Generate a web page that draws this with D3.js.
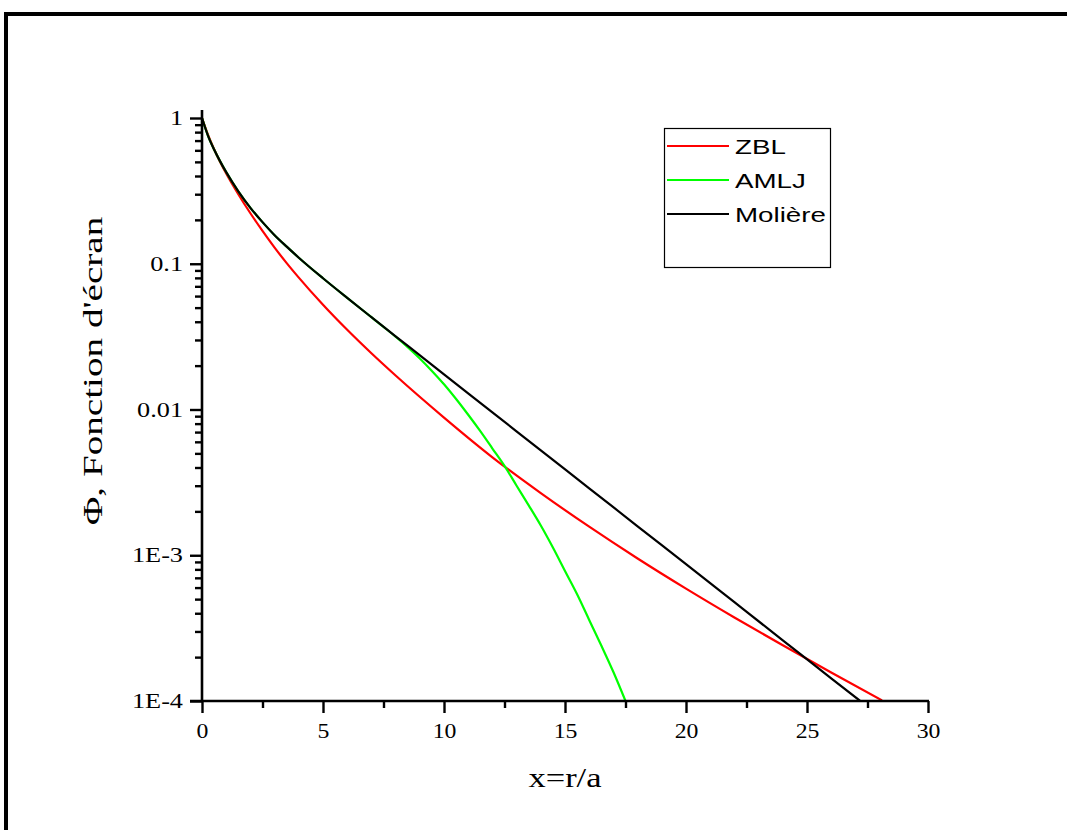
<!DOCTYPE html>
<html>
<head>
<meta charset="utf-8">
<script src="https://cdn.jsdelivr.net/npm/d3@7"></script>
<style>
  html, body { margin: 0; padding: 0; background: #fff; }
  svg { display: block; }
</style>
</head>
<body>
<svg id="chart" width="1067" height="830"></svg>
<script>
// Screening functions Φ(x) against reduced distance x = r/a
const seriesNames = ["ZBL", "AMLJ", "Molière"];
const seriesColors = ["#ff0000", "#00ff00", "#000000"];

const zblX = [0, 0.25, 0.5, 0.75, 1, 1.5, 2, 2.5, 3, 3.5, 4, 5, 6, 7, 8, 10, 12, 14, 16, 18, 20, 22, 24, 26, 28.1];
const zblY = [1, 0.765, 0.610, 0.499, 0.416, 0.300, 0.222, 0.168, 0.129, 0.101, 0.0803, 0.0523, 0.0352, 0.0243, 0.0171,
              0.0088, 0.0047, 0.00267, 0.00157, 0.00095, 0.00059, 0.000374, 0.000241, 0.000157, 0.000101];

const amljX = [0, 0.25, 0.5, 0.75, 1, 1.5, 2, 2.5, 3, 3.5, 4, 5, 6, 7, 7.5, 8, 8.5, 9, 9.5, 10, 10.5, 11, 11.5, 12,
               12.5, 13, 13.5, 14, 14.5, 15, 15.5, 16, 16.5, 17, 17.5];
const amljY = [1, 0.754, 0.608, 0.504, 0.425, 0.314, 0.242, 0.193, 0.157, 0.131, 0.110, 0.0795, 0.0583, 0.0430, 0.0369,
               0.0316, 0.0268, 0.0224, 0.0184, 0.0149, 0.0118, 0.0092, 0.0071, 0.0054, 0.0041, 0.0030, 0.0022,
               0.0016, 0.00113, 0.00078, 0.00054, 0.00036, 0.00024, 0.000158, 0.000100];

const moliereX = [0, 0.25, 0.5, 0.75, 1, 1.5, 2, 2.5, 3, 3.5, 4, 5, 6, 7, 8, 10, 12, 14, 16, 18, 20, 22, 24, 26, 27.2];
const moliereY = [1, 0.754, 0.608, 0.504, 0.425, 0.314, 0.242, 0.193, 0.157, 0.131, 0.110, 0.0795, 0.0583, 0.0430, 0.0318,
                  0.0174, 0.00956, 0.00524, 0.00288, 0.00158, 0.000868, 0.000476, 0.000261, 0.000143, 0.000100];

const xMajorTicks = [0, 5, 10, 15, 20, 25, 30];
const xMinorTicks = [2.5, 7.5, 12.5, 17.5, 22.5, 27.5];
const yMajorTicks = [1, 0.1, 0.01, 1e-3, 1e-4];
const yTickLabels = ["1", "0.1", "0.01", "1E-3", "1E-4"];

const xTitle = "x=r/a";
const yTitle = "Φ, Fonction d'écran";

const series = [
  { name: seriesNames[0], color: seriesColors[0], xs: zblX, ys: zblY },
  { name: seriesNames[1], color: seriesColors[1], xs: amljX, ys: amljY },
  { name: seriesNames[2], color: seriesColors[2], xs: moliereX, ys: moliereY }
];

const svg = d3.select("#chart");

// widen glyphs horizontally (the original export uses wide type)
function widen(sel, factor) {
  sel.each(function () {
    const w = this.getComputedTextLength();
    if (w > 0) {
      d3.select(this).attr("textLength", w * factor).attr("lengthAdjust", "spacingAndGlyphs");
    }
  });
}

// outer frame (runs past the right and bottom edges)
svg.append("rect")
  .attr("x", 6).attr("y", 14)
  .attr("width", 1100).attr("height", 900)
  .attr("fill", "none").attr("stroke", "#000").attr("stroke-width", 4);

const plot = { left: 202, right: 928, top: 118, bottom: 701 };

const x = d3.scaleLinear().domain([0, 30]).range([plot.left, plot.right]);
const y = d3.scaleLog().domain([1e-4, 1]).range([plot.bottom, plot.top]);

const serif = "'Liberation Serif', 'Times New Roman', serif";
const sans = "'Liberation Sans', Arial, sans-serif";

// curves, clipped to the plotting area
svg.append("clipPath").attr("id", "plotClip")
  .append("rect")
  .attr("x", plot.left).attr("y", plot.top - 10)
  .attr("width", plot.right - plot.left).attr("height", plot.bottom - plot.top + 10);

const line = d3.line()
  .x(d => x(d[0]))
  .y(d => y(d[1]))
  .curve(d3.curveMonotoneX);

const curves = svg.append("g").attr("clip-path", "url(#plotClip)");
series.forEach(s => {
  curves.append("path")
    .datum(s.xs.map((v, i) => [v, s.ys[i]]))
    .attr("d", line)
    .attr("fill", "none")
    .attr("stroke", s.color)
    .attr("stroke-width", 2.2)
    .attr("stroke-linejoin", "round");
});

// x axis
const xAxis = svg.append("g")
  .attr("transform", `translate(0,${plot.bottom})`)
  .call(d3.axisBottom(x).tickValues(xMajorTicks).tickSize(12).tickPadding(9).tickFormat(d3.format("d")));
xAxis.append("g")
  .call(d3.axisBottom(x).tickValues(xMinorTicks).tickSize(7).tickFormat(""))
  .select(".domain").remove();

// y axis with logarithmic minor ticks
const yMinor = [];
yMajorTicks.slice(1).forEach(dec => {
  for (let k = 2; k <= 9; k++) yMinor.push(dec * k);
});
const yAxis = svg.append("g")
  .attr("transform", `translate(${plot.left},0)`)
  .call(d3.axisLeft(y).tickValues(yMajorTicks).tickSize(12).tickPadding(7)
    .tickFormat((d, i) => yTickLabels[i]));
yAxis.append("g")
  .call(d3.axisLeft(y).tickValues(yMinor).tickSize(7).tickFormat(""))
  .select(".domain").remove();

[xAxis, yAxis].forEach(g => {
  g.selectAll(".domain").remove();
  g.selectAll(".tick line").attr("stroke", "#000").attr("stroke-width", 2.4);
  g.selectAll(".tick text").attr("fill", "#000").style("font-family", serif);
});
xAxis.selectAll(".tick text").style("font-size", "22px");
widen(xAxis.selectAll(".tick text"), 1.08);
yAxis.selectAll(".tick text").style("font-size", "21px");
widen(yAxis.selectAll(".tick text"), 1.25);

// axis lines
svg.append("line")
  .attr("x1", plot.left - 12).attr("x2", plot.right + 1)
  .attr("y1", plot.bottom).attr("y2", plot.bottom)
  .attr("stroke", "#000").attr("stroke-width", 2.6);
svg.append("line")
  .attr("x1", plot.left).attr("x2", plot.left)
  .attr("y1", plot.top - 8).attr("y2", plot.bottom + 1)
  .attr("stroke", "#000").attr("stroke-width", 2.6);

// axis titles
const xt = svg.append("text")
  .attr("x", (plot.left + plot.right) / 2).attr("y", 787)
  .attr("text-anchor", "middle")
  .style("font-family", serif).style("font-size", "28px")
  .text(xTitle);
widen(xt, 1.23);

const yt = svg.append("text")
  .attr("transform", "translate(102,371) rotate(-90)")
  .attr("text-anchor", "middle")
  .style("font-family", serif).style("font-size", "27px")
  .text(yTitle);
widen(yt, 1.45);

// legend
const legend = svg.append("g");
legend.append("rect")
  .attr("x", 664.5).attr("y", 128.5).attr("width", 166).attr("height", 139)
  .attr("fill", "#fff").attr("stroke", "#000").attr("stroke-width", 1.2);
series.forEach((s, i) => {
  const ly = 146 + i * 34;
  legend.append("line")
    .attr("x1", 667).attr("x2", 729).attr("y1", ly).attr("y2", ly)
    .attr("stroke", s.color).attr("stroke-width", 2.2);
  const t = legend.append("text")
    .attr("x", 735).attr("y", ly + 8)
    .style("font-family", sans).style("font-size", "21px")
    .text(s.name);
  widen(t, 1.32);
});
</script>
</body>
</html>
